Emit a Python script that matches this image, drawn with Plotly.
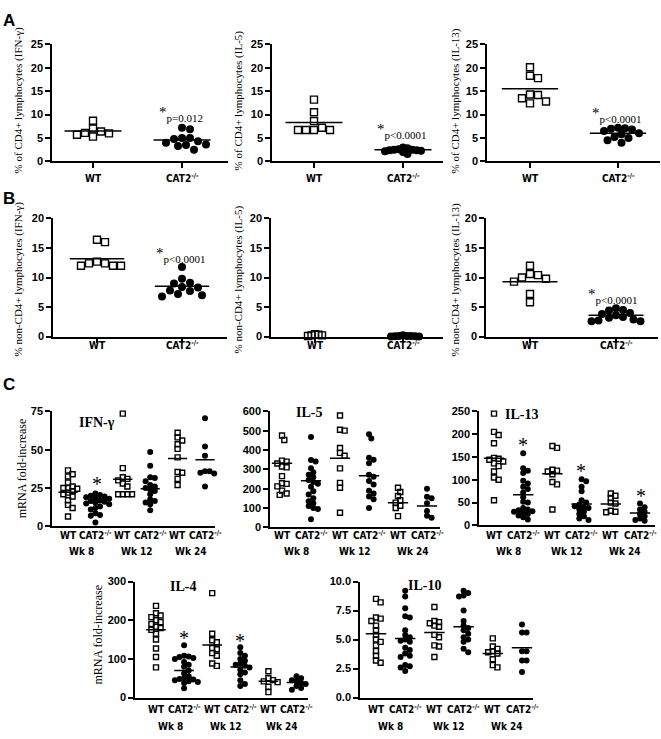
import plotly.graph_objects as go

W, H = 661, 739

# ---------------- DATA ----------------
GROUPS_AB = ["WT", "CAT2<sup>-/-</sup>"]

# Panel A: % of CD4+ lymphocytes
A_IFNG_WT = [8.7, 7.0, 6.4, 6.1, 6.0, 5.7, 5.3]
A_IFNG_KO = [7.2, 6.9, 5.0, 5.0, 4.8, 4.3, 4.0, 3.6, 3.5, 3.3, 2.5]
A_IFNG_MID = [6.5, 4.6]
A_IL5_WT = [13.2, 10.5, 8.6, 7.2, 6.7, 6.7, 6.7, 6.7]
A_IL5_KO = [3.0, 2.8, 2.6, 2.5, 2.5, 2.4, 2.4, 2.3, 2.2, 2.0, 1.6]
A_IL5_MID = [8.3, 2.5]
A_IL13_WT = [20.1, 18.3, 17.8, 14.3, 14.2, 13.5, 12.8, 12.4]
A_IL13_KO = [7.2, 7.1, 7.0, 6.8, 6.5, 6.0, 5.8, 5.2, 5.0, 4.5, 4.0]
A_IL13_MID = [15.5, 6.0]
A_PVALUES = ["p=0.012", "p&lt;0.0001", "p&lt;0.0001"]

# Panel B: % non-CD4+ lymphocytes
B_IFNG_WT = [16.4, 16.0, 12.7, 12.4, 12.4, 12.0, 12.0, 12.0]
B_IFNG_KO = [11.8, 9.8, 9.1, 9.0, 8.4, 8.3, 7.8, 7.7, 7.2, 7.0, 6.8]
B_IFNG_MID = [13.2, 8.5]
B_IL5_WT = [0.4, 0.3, 0.2, 0.2, 0.1]
B_IL5_KO = [0.2, 0.1, 0.1, 0.1, 0.05, 0.05, 0.0, 0.0]
B_IL13_WT = [12.0, 10.6, 10.4, 10.0, 9.8, 9.3, 7.2, 5.8]
B_IL13_KO = [4.8, 4.5, 4.4, 4.0, 3.8, 3.6, 3.3, 3.2, 2.9, 2.7, 2.6, 2.6]
B_IL13_MID = [9.3, 3.6]
B_PVALUES = ["p&lt;0.0001", None, "p&lt;0.0001"]

# Panel C: mRNA fold-increase; groups = WT/CAT2 at Wk 8, Wk 12, Wk 24
C_GROUPS = ["WT", "CAT2<sup>-/-</sup>", "WT", "CAT2<sup>-/-</sup>", "WT", "CAT2<sup>-/-</sup>"]
C_WEEKS = ["Wk 8", "Wk 12", "Wk 24"]

C_IFNG = [
    [36.5, 34.0, 32.5, 28.5, 26.0, 25.0, 25.0, 24.5, 23.0, 22.0, 21.0, 19.5, 17.0, 14.0, 12.0, 6.5],
    [21.5, 20.5, 20.0, 19.5, 19.0, 18.5, 18.0, 17.0, 16.5, 16.0, 15.5, 15.0, 14.5, 13.0, 12.0, 11.0, 8.5, 7.5, 7.0, 2.5],
    [73.5, 38.0, 32.0, 31.0, 30.0, 28.0, 26.0, 21.0, 21.0, 21.0, 21.0],
    [48.5, 39.5, 32.0, 31.5, 29.5, 27.0, 26.0, 25.0, 24.0, 23.0, 21.0, 17.5, 16.5, 15.5, 14.5, 10.5],
    [61.0, 58.0, 56.0, 53.5, 50.5, 45.0, 35.0, 35.5, 31.0, 27.0],
    [70.5, 52.0, 46.0, 36.0, 36.0, 35.0, 34.5, 26.0],
]
C_IFNG_MID = [22.3, 15.5, 30.8, 24.6, 44.2, 43.5]

C_IL5 = [
    [475, 452, 345, 340, 330, 315, 310, 265, 228, 225, 212, 190, 175, 168],
    [467, 348, 340, 306, 285, 272, 260, 245, 235, 225, 210, 187, 170, 150, 135, 125, 110, 100, 95, 42],
    [578, 505, 500, 410, 385, 370, 305, 230, 205, 76],
    [482, 460, 360, 350, 332, 272, 262, 240, 222, 190, 175, 160, 145, 100],
    [205, 183, 162, 140, 128, 112, 100, 58],
    [200, 158, 150, 125, 85, 60, 50],
]
C_IL5_MID = [331, 241, 357, 267, 127, 110]

C_IL13 = [
    [245, 205, 198, 180, 148, 146, 144, 140, 136, 130, 118, 105, 100, 55],
    [158, 125, 120, 115, 98, 92, 85, 80, 72, 62, 52, 50, 38, 35, 33, 31, 30, 28, 25, 22, 18, 13],
    [174, 170, 122, 120, 118, 112, 95, 90, 35],
    [101, 97, 85, 75, 55, 50, 46, 42, 40, 38, 35, 30, 25, 20, 15, 12],
    [70, 65, 60, 50, 48, 32, 30, 29],
    [48, 40, 35, 30, 25, 20, 15, 12, 10],
]
C_IL13_MID = [147, 67, 113, 47, 47, 27]

C_IL4 = [
    [237, 218, 212, 208, 200, 195, 190, 183, 180, 175, 165, 150, 127, 105, 78],
    [135, 108, 106, 105, 102, 100, 92, 85, 80, 70, 62, 55, 50, 48, 47, 45, 42, 40, 38, 24],
    [270, 165, 148, 143, 128, 125, 115, 108, 88, 82],
    [130, 115, 108, 100, 95, 88, 85, 82, 78, 72, 65, 60, 45, 35, 30],
    [68, 50, 45, 42, 40, 28, 14],
    [55, 50, 45, 42, 38, 35, 30, 25, 20],
]
C_IL4_MID = [175, 70, 136, 79, 42, 39]

C_IL10 = [
    [8.5, 8.2, 6.9, 6.8, 6.6, 6.2, 5.8, 5.4, 5.0, 4.8, 4.5, 4.0, 3.6, 3.2, 3.0],
    [9.2, 8.7, 7.7, 7.0, 6.9, 5.8, 5.4, 5.2, 5.0, 4.9, 4.8, 4.3, 4.1, 3.8, 3.6, 3.5, 2.8, 2.7, 2.6, 2.3],
    [7.8, 6.6, 6.5, 6.4, 6.2, 6.1, 5.4, 5.2, 4.5, 4.4, 3.5],
    [9.2, 9.0, 8.8, 8.7, 7.5, 6.6, 6.2, 6.0, 5.8, 5.5, 5.2, 5.0, 4.8, 4.2, 3.9],
    [5.1, 4.4, 4.2, 4.0, 3.9, 3.8, 3.3, 2.8, 2.6],
    [6.3, 5.6, 5.6, 4.0, 4.0, 3.2, 3.2, 2.2],
]
C_IL10_MID = [5.5, 5.1, 5.6, 6.1, 3.8, 4.3]

# ---------------- FIGURE ----------------
SANS = "Liberation Sans, Arial, sans-serif"
NARROW = "Liberation Sans Narrow, Arial Narrow, DejaVu Sans Condensed, sans-serif"
SERIF = "Liberation Serif, Times New Roman, serif"
STAR = "<sup><span style='font-size:15px'>*</span></sup>"

fig = go.Figure()
layout_axes = {}
annotations = []


def PX(x):
    return x / W


def PY(y):
    return 1 - y / H


def swarm(vals, ppu_y, ppu_x, D, step):
    placed = []
    offs = [0.0] * len(vals)
    order = sorted(range(len(vals)), key=lambda i: -vals[i])
    cands = [0.0]
    for j in range(1, 80):
        cands += [j * step, -j * step]
    for i in order:
        yy = vals[i] * ppu_y
        cc = 0.0
        for c in cands:
            if all((c - a) ** 2 + (yy - b) ** 2 >= D * D for a, b in placed):
                cc = c
                break
        placed.append((cc, yy))
        offs[i] = cc / ppu_x
    return offs


def add_panel(n, geom, groups, mids, ymax, dtick, tickfmt, ms, Ds, half, xticks):
    x0, x1, c0, dc, ytop, ybot = geom
    ppu_y = (ybot - ytop) / ymax
    xa = "x" if n == 1 else f"x{n}"
    ya = "y" if n == 1 else f"y{n}"
    for gi, vals in enumerate(groups):
        D = Ds[gi % len(Ds)]
        offs = swarm(vals, ppu_y, dc, D, D * 0.5)
        xs = [gi + o for o in offs]
        if gi % 2 == 0:
            marker = dict(symbol="square-open", size=ms, color="black",
                          line=dict(width=1.4, color="black"))
        else:
            marker = dict(symbol="circle", size=ms + 1, color="black",
                          line=dict(width=0))
        fig.add_trace(go.Scatter(x=xs, y=vals, mode="markers", marker=marker,
                                 xaxis=xa, yaxis=ya, cliponaxis=False,
                                 hoverinfo="skip", showlegend=False))
        if mids is not None:
            fig.add_trace(go.Scatter(x=[gi - half, gi + half], y=[mids[gi]] * 2,
                                     mode="lines", line=dict(color="black", width=1.5),
                                     xaxis=xa, yaxis=ya, cliponaxis=False,
                                     hoverinfo="skip", showlegend=False))
    xkey = "xaxis" if n == 1 else f"xaxis{n}"
    ykey = "yaxis" if n == 1 else f"yaxis{n}"
    layout_axes[xkey] = dict(
        domain=[PX(x0), PX(x1)], range=[(x0 - c0) / dc, (x1 - c0) / dc],
        anchor=ya, showline=True, linecolor="black", linewidth=1.5,
        showgrid=False, zeroline=False,
        ticks="outside" if xticks else "", ticklen=5, tickwidth=1.5, tickcolor="black",
        tickvals=list(range(len(groups))), showticklabels=False, fixedrange=True)
    layout_axes[ykey] = dict(
        domain=[PY(ybot), PY(ytop)], range=[0, ymax], anchor=xa,
        showline=True, linecolor="black", linewidth=1.5,
        showgrid=False, zeroline=False, ticks="outside", ticklen=5, tickwidth=1.5,
        tickcolor="black", dtick=dtick, tick0=0, tickformat=tickfmt,
        tickfont=dict(family=SANS, size=11, color="black", weight="bold"),
        fixedrange=True)
    return xa


def cat_labels(xa, labels, ypix, size=10):
    for i, t in enumerate(labels):
        annotations.append(dict(x=i, xref=xa, y=PY(ypix), yref="paper", text=t,
                                showarrow=False, xanchor="center", yanchor="middle",
                                font=dict(family=NARROW, size=size, color="black", weight="bold")))


def text_at(x, y, t, size, family=SERIF, bold=False, angle=0, anchor="center"):
    annotations.append(dict(x=PX(x), y=PY(y), xref="paper", yref="paper", text=t,
                            showarrow=False, xanchor=anchor, yanchor="middle", textangle=angle,
                            font=dict(family=family, size=size, color="black",
                                      weight="bold" if bold else "normal")))


# ----- Panel A -----
gA = [(52, 228, 93, 89, 39, 158), (272, 443, 314, 89, 39, 158), (487, 660, 530, 88, 39, 158)]
A_DATA = [([A_IFNG_WT, A_IFNG_KO], A_IFNG_MID, "IFN-γ", [8, 8]),
          ([A_IL5_WT, A_IL5_KO], A_IL5_MID, "IL-5", [8, 4.5]),
          ([A_IL13_WT, A_IL13_KO], A_IL13_MID, "IL-13", [8, 7])]
ytitle_x = [18, 238, 455]
pA = [(181, 110), (402, 127), (616, 111)]
for k, (grp, mid, name, dd) in enumerate(A_DATA):
    xa = add_panel(1 + k, gA[k], grp, mid, 25, 5, "d", 7, dd, 0.32, True)
    cat_labels(xa, GROUPS_AB, 175)
    text_at(ytitle_x[k], 96, f"% of CD4+ lymphocytes ({name})", 11, angle=-90)
    text_at(pA[k][0], pA[k][1], STAR + A_PVALUES[k], 11)

# ----- Panel B -----
gB = [(53, 227, 97, 85, 216, 336), (271, 443, 315, 88, 216, 336), (486, 658, 530, 86, 216, 336)]
B_DATA = [([B_IFNG_WT, B_IFNG_KO], B_IFNG_MID, "IFN-γ", [8, 8]),
          ([B_IL5_WT, B_IL5_KO], None, "IL-5", [3.5, 4]),
          ([B_IL13_WT, B_IL13_KO], B_IL13_MID, "IL-13", [8, 7])]
pB = [(180, 253), None, (612, 295)]
for k, (grp, mid, name, dd) in enumerate(B_DATA):
    xa = add_panel(4 + k, gB[k], grp, mid, 20, 5, "d", 7, dd, 0.32, True)
    cat_labels(xa, GROUPS_AB, 345)
    text_at(ytitle_x[k], 278, f"% non-CD4+ lymphocytes ({name})", 11, angle=-90)
    if B_PVALUES[k]:
        text_at(pB[k][0], pB[k][1], STAR + B_PVALUES[k], 11)

# ----- Panel C -----
gC = [(52, 215, 68, 27.4, 412, 529), (270, 440, 282, 29, 412, 530),
      (479, 655, 494, 29.2, 412, 528), (135, 308, 156, 28.1, 585, 703),
      (360, 533, 376, 29.2, 585, 703)]
C_DATA = [(C_IFNG, C_IFNG_MID, 75, 25, "d", "IFN-γ", (97, 423)),
          (C_IL5, C_IL5_MID, 600, 100, "d", "IL-5", (309, 413)),
          (C_IL13, C_IL13_MID, 250, 50, "d", "IL-13", (521, 415)),
          (C_IL4, C_IL4_MID, 300, 100, "d", "IL-4", (183, 590)),
          (C_IL10, C_IL10_MID, 10, 2.5, ".1f", "IL-10", (425, 589))]
for k, (grp, mid, ymax, dt, fmt, name, tpos) in enumerate(C_DATA):
    xa = add_panel(7 + k, gC[k], grp, mid, ymax, dt, fmt, 5, [4.6], 0.35, False)
    top = k < 3
    cat_labels(xa, C_GROUPS, 538 if top else 715)
    wy = 554 if top else 732
    for w, lab in enumerate(C_WEEKS):
        annotations.append(dict(x=2 * w + 0.5, xref=xa, y=PY(wy), yref="paper", text=lab,
                                showarrow=False, xanchor="center", yanchor="middle",
                                font=dict(family=NARROW, size=10, color="black", weight="bold")))
    text_at(tpos[0], tpos[1], name, 14, bold=True)

text_at(22, 470, "mRNA fold-increase", 12, angle=-90)
text_at(98, 639, "mRNA fold-increase", 12, angle=-90)

for (sx, sy) in [(97, 486), (523, 446), (581, 473), (641, 498), (184, 642), (240, 645)]:
    text_at(sx, sy, "*", 20)

# panel letters
text_at(9, 15, "A", 17, family=SANS, bold=True)
text_at(9, 196, "B", 17, family=SANS, bold=True)
text_at(9, 385, "C", 17, family=SANS, bold=True)

fig.update_layout(
    width=W, height=H, margin=dict(l=0, r=0, t=0, b=0),
    paper_bgcolor="white", plot_bgcolor="white", showlegend=False,
    annotations=annotations, hovermode=False, **layout_axes)

fig.write_html("out.html", config={"displayModeBar": False},
               post_script="document.body.style.margin='0px';document.body.style.overflow='hidden';")
